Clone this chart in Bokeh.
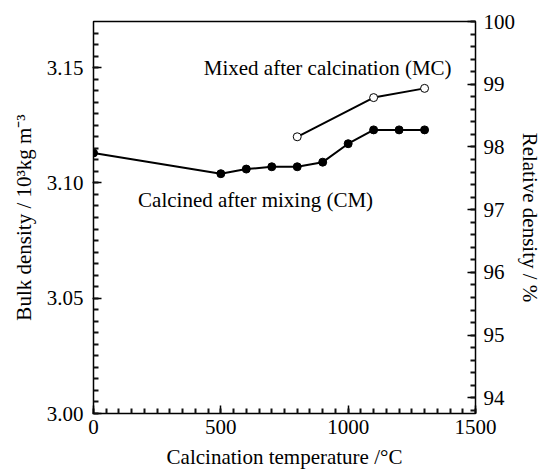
from bokeh.plotting import figure
from bokeh.models import LinearAxis, Range1d, Label, SingleIntervalTicker, CustomJSTickFormatter
from bokeh.embed import file_html
from bokeh.resources import INLINE

# Data
temp_cm = [0, 500, 600, 700, 800, 900, 1000, 1100, 1200, 1300]
dens_cm = [3.113, 3.104, 3.106, 3.107, 3.107, 3.109, 3.117, 3.123, 3.123, 3.123]
temp_mc = [800, 1100, 1300]
dens_mc = [3.120, 3.137, 3.141]

FONT = "Times New Roman"
FS = "21px"

p = figure(width=545, height=474, output_backend="svg", toolbar_location=None,
           x_range=Range1d(0, 1500), y_range=Range1d(3.00, 3.17),
           min_border_left=93, min_border_right=70, min_border_top=21, min_border_bottom=61)
p.extra_y_ranges = {"rel": Range1d(93.75, 100)}
p.grid.visible = False
p.outline_line_color = "black"
p.outline_line_width = 1.5

def style(ax, ticker):
    ax.ticker = ticker
    ax.major_tick_in = 8
    ax.major_tick_out = 0
    ax.minor_tick_in = 5
    ax.minor_tick_out = 0
    ax.minor_tick_line_color = "#111111"
    ax.minor_tick_line_width = 2
    ax.major_tick_line_width = 1.5
    ax.major_label_text_font = FONT
    ax.major_label_text_font_size = FS
    ax.major_label_text_color = "black"
    ax.axis_label_text_font = FONT
    ax.axis_label_text_font_size = FS
    ax.axis_label_text_font_style = "normal"
    ax.axis_label_text_color = "black"

style(p.xaxis[0], SingleIntervalTicker(interval=500, num_minor_ticks=10))
p.xaxis[0].axis_label = "Calcination temperature /°C"
p.xaxis[0].major_label_standoff = 6
p.xaxis[0].axis_label_standoff = 8

style(p.yaxis[0], SingleIntervalTicker(interval=0.05, num_minor_ticks=10))
p.yaxis[0].major_tick_out = 1
p.yaxis[0].axis_label = "Bulk density / 10³kg m⁻³"
p.yaxis[0].formatter = CustomJSTickFormatter(code="return tick.toFixed(2);")
p.yaxis[0].major_label_standoff = 9
p.yaxis[0].axis_label_standoff = 8

rax = LinearAxis(y_range_name="rel", axis_label="Relative density / %")
style(rax, SingleIntervalTicker(interval=1, num_minor_ticks=5))
rax.major_label_standoff = 8
rax.axis_label_standoff = 0
p.add_layout(rax, "right")

p.line(temp_cm, dens_cm, line_color="black", line_width=2)
p.scatter(temp_cm, dens_cm, size=8, fill_color="black", line_color="black")
p.line(temp_mc, dens_mc, line_color="black", line_width=2)
p.scatter(temp_mc, dens_mc, size=8, fill_color="white", line_color="black", line_width=1)

p.add_layout(Label(x=433, y=3.1499, text="Mixed after calcination (MC)", text_font=FONT,
                   text_font_size=FS, text_baseline="middle", text_color="black"))
p.add_layout(Label(x=175, y=3.0925, text="Calcined after mixing (CM)", text_font=FONT,
                   text_font_size=FS, text_baseline="middle", text_color="black"))

open("out.html", "w").write(file_html(p, INLINE))
